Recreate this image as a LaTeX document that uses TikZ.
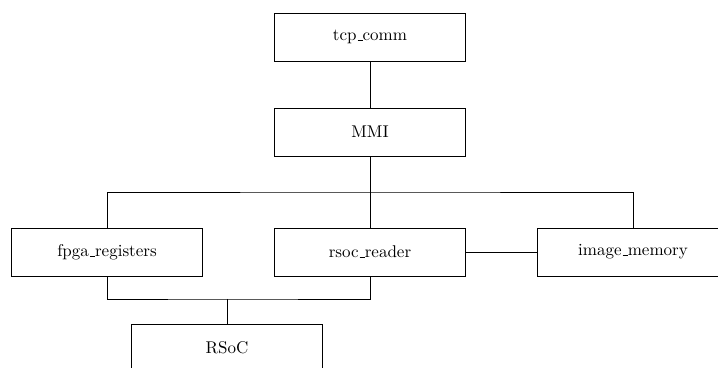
\documentclass[tikz,border=0pt]{standalone}
% short baseline underscore, as in the classic OT1 encoding
\newcommand\uscore{\leavevmode\kern.06em\vbox{\hrule width.3em}}
\begin{document}
\begin{tikzpicture}[x=0.588pt,y=-0.588pt,
  box/.style={draw,rectangle,minimum width=112.3pt,minimum height=28.2pt,inner sep=0pt,font=\normalsize},
  link/.style={draw,line width=0.45pt}]
\useasboundingbox (0,0) rectangle (718,368);
% module boxes
\node[box] (tcp) at (370,37) {tcp\uscore comm};
\node[box] (mmi) at (370,132) {MMI};
\node[box] (fpga) at (107,252) {fpga\uscore registers};
\node[box] (rsoc) at (370,252) {rsoc\uscore reader};
\node[box] (img) at (633,252) {image\uscore memory};
\node[box] (soc) at (227,348) {RSoC};
% junction points of the buses
\coordinate (bus) at (370,192);
\coordinate (jn) at (227,299);
% connections
\draw[link] (tcp) -- (mmi);
\draw[link] (mmi) -- (rsoc);
\draw[link] (fpga.north) |- (bus) -| (img.north);
\draw[link] (rsoc) -- (img);
\draw[link] (fpga.south) |- (jn) -| (rsoc.south);
\draw[link] (jn) -- (soc.north);
\end{tikzpicture}
\end{document}
